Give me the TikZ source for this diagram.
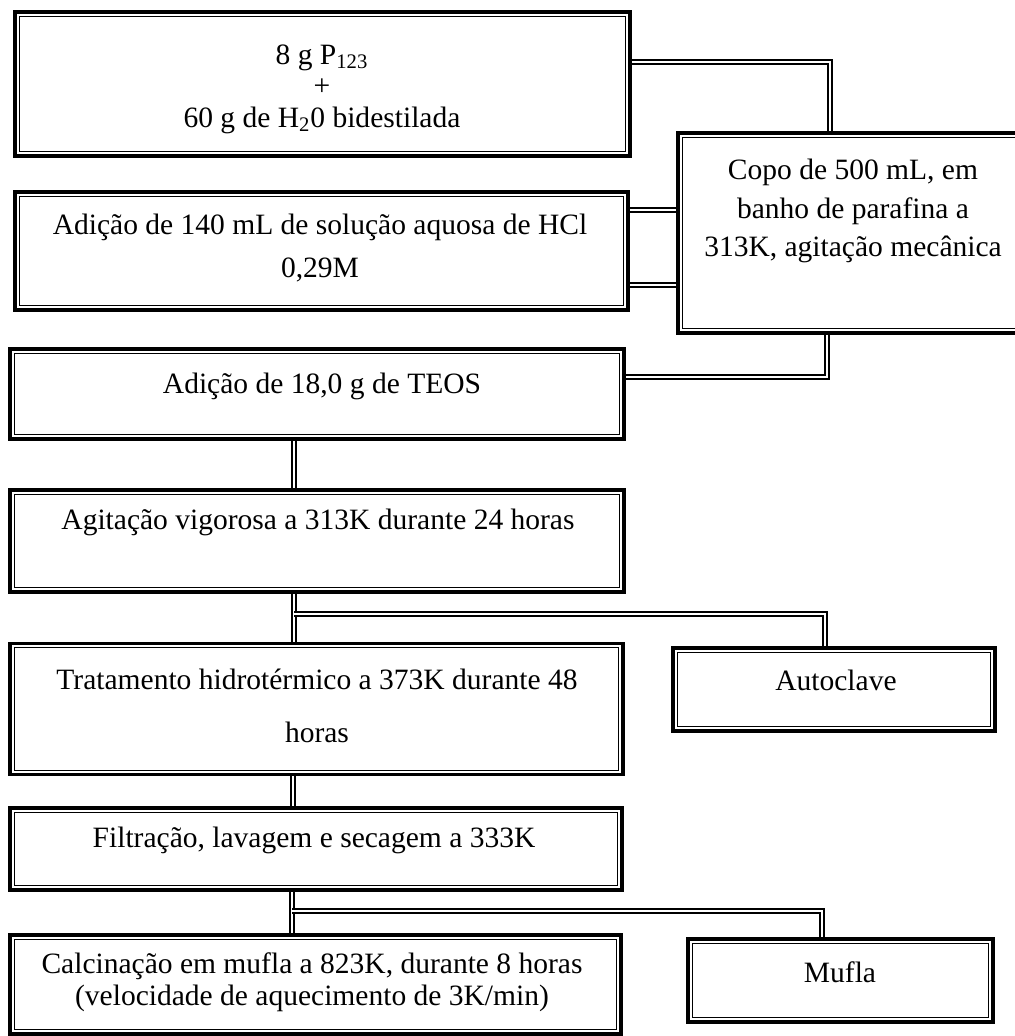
\documentclass[tikz,border=0pt]{standalone}
\usepackage{fontspec}
\setmainfont{Liberation Serif}
\usetikzlibrary{backgrounds}
\tikzstyle{stage} = [rectangle, draw=black, fill=white, line width=2pt, inner sep=0pt,
  path picture={\draw[line width=0.8pt] ([shift={(2.4pt,2.4pt)}]path picture bounding box.south west) rectangle ([shift={(-2.4pt,-2.4pt)}]path picture bounding box.north east);}]
\tikzstyle{txt} = [align=center, inner sep=0pt, font=\fontsize{16.8}{19}\selectfont]
\tikzstyle{link} = [draw=black, double=white, double distance=1.6pt, line width=1pt]

\begin{document}
\begin{tikzpicture}[x=0.02cm, y=-0.02cm]
\useasboundingbox (0,0) rectangle (1015,1036);

% caixas
\node (mix) [stage, minimum width=12.3cm, minimum height=2.88cm] at (322.5,84) {};
\node (hcl) [stage, minimum width=12.26cm, minimum height=2.36cm] at (321.5,251) {};
\node (copo) [stage, minimum width=7.04cm, minimum height=4cm] at (854,233) {};
\node (teos) [stage, minimum width=12.28cm, minimum height=1.8cm] at (317,394) {};
\node (agit) [stage, minimum width=12.28cm, minimum height=2.04cm] at (317,541) {};
\node (trat) [stage, minimum width=12.26cm, minimum height=2.62cm] at (316.5,709) {};
\node (auto) [stage, minimum width=6.44cm, minimum height=1.66cm] at (834,689.5) {};
\node (filt) [stage, minimum width=12.24cm, minimum height=1.64cm] at (316,849) {};
\node (calc) [stage, minimum width=12.22cm, minimum height=1.98cm] at (315.5,984.5) {};
\node (mufla) [stage, minimum width=6.1cm, minimum height=1.66cm] at (840.5,980.5) {};

% textos
\node (mixtext) [txt] at (322,89) {8 g P\textsubscript{123}\\[-1pt] +\\[-1pt] 60 g de H\textsubscript{2}0 bidestilada};
\node (hcltext) [txt] at (320,248) {Adição de 140 mL de solução aquosa de HCl\\[5.4pt] 0,29M};
\node (copotext) [txt] at (853,211) {Copo de 500 mL, em\\[3pt] banho de parafina a\\[3pt] 313K, agitação mecânica};
\node (teostext) [txt] at (322,386) {Adição de 18,0 g de TEOS};
\node (agittext) [txt] at (318,522) {Agitação vigorosa a 313K durante 24 horas};
\node (trattext) [txt] at (317,706) {Tratamento hidrotérmico a 373K durante 48\\[11pt] horas};
\node (autotext) [txt] at (836,680) {Autoclave};
\node (filttext) [txt] at (314,840) {Filtração, lavagem e secagem a 333K};
\node (calctext) [txt] at (312,982) {Calcinação em mufla a 823K, durante 8 horas\\[-1pt] (velocidade de aquecimento de 3K/min)};
\node (muflatext) [txt] at (840,972) {Mufla};

% ligacoes
\begin{scope}[on background layer]
\draw[link] (mix.east |- 0,62) -| (copo.north -| 830,0);
\draw[link] (hcl.east |- 0,210) -- (copo.west |- 0,210);
\draw[link] (hcl.east |- 0,285) -- (copo.west |- 0,285);
\draw[link] (teos.east |- 0,377) -| (copo.south -| 827,0);
\draw[link] (teos.south -| 294,0) -- (agit.north -| 294,0);
\draw[link] (agit.south -| 294,0) -- (trat.north -| 294,0);
\coordinate (fork1) at (294,614);
\draw[link] (fork1) -| (auto.north -| 825,0);
\draw[link] (trat.south -| 293,0) -- (filt.north -| 293,0);
\draw[link] (filt.south -| 292,0) -- (calc.north -| 292,0);
\coordinate (fork2) at (292,911);
\draw[link] (fork2) -| (mufla.north -| 822,0);
\end{scope}
\end{tikzpicture}
\end{document}
